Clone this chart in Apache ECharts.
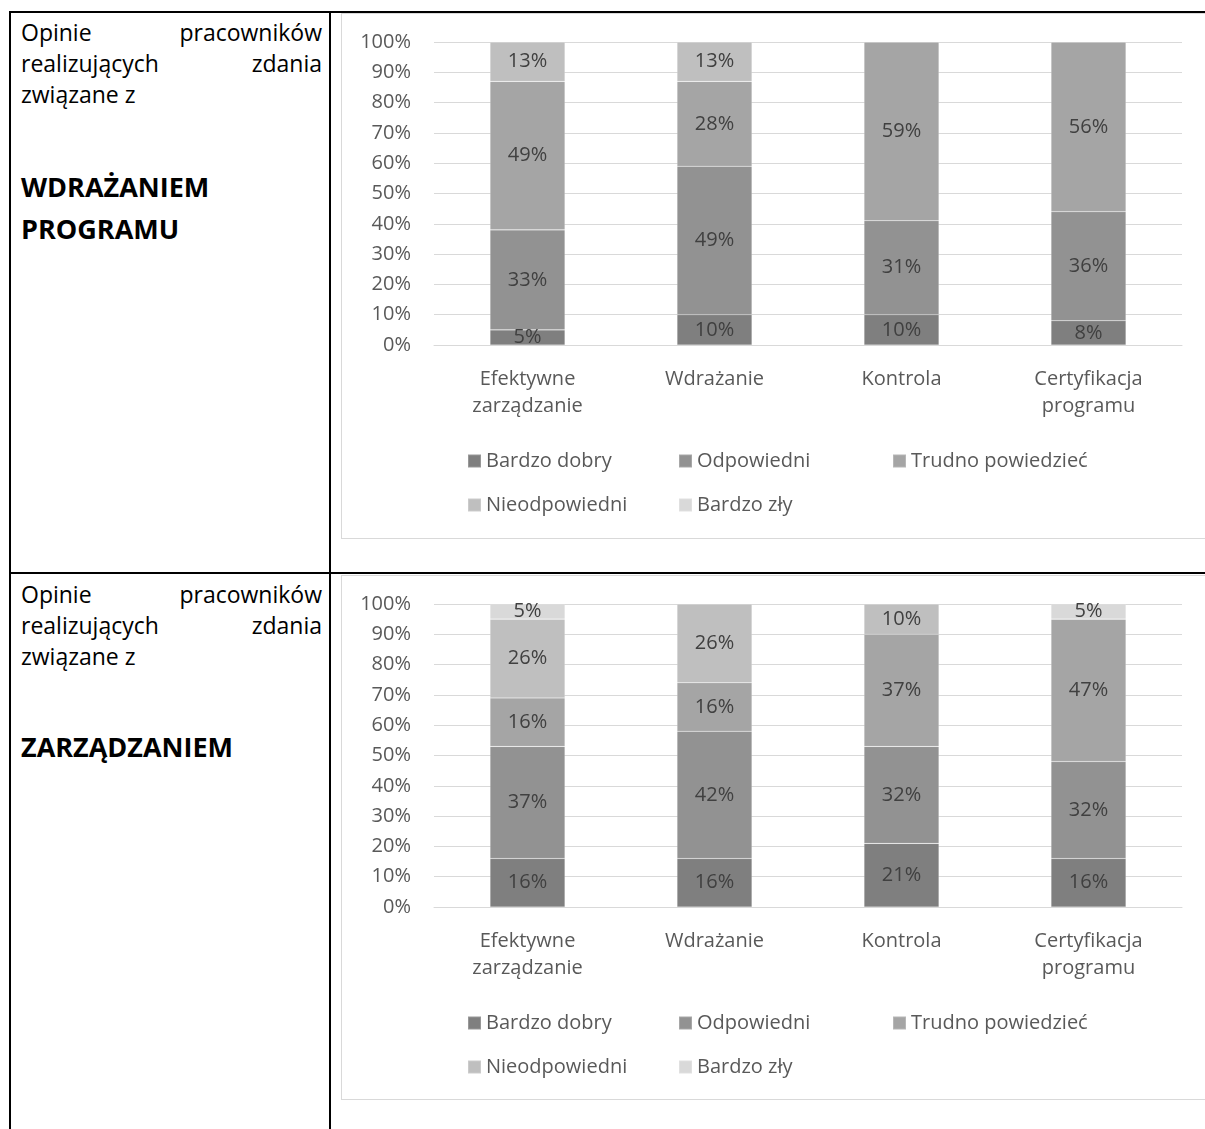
<!DOCTYPE html>
<html lang="pl">
<head>
<meta charset="utf-8">
<title>Opinie pracowników</title>
<script src="https://cdn.jsdelivr.net/npm/echarts@6/dist/echarts.min.js"></script>
<style>
  html, body { margin: 0; padding: 0; background: #fff; }
  body { width: 1205px; height: 1129px; position: relative; overflow: hidden; font-family: 'Open Sans', sans-serif; }
  .rule { position: absolute; background: #000; }
  .frame { position: absolute; box-sizing: border-box; border: 1px solid #d9d9d9; pointer-events: none; }
  .chart { position: absolute; }
  .cell-text { position: absolute; left: 21px; width: 301px; color: #000; }
  .cell-text .ln { font-size: 23px; line-height: 31px; height: 31px; white-space: nowrap; }
  .cell-text .ln.just { text-align: justify; text-align-last: justify; white-space: normal; }
  .cell-text .hd { font-size: 27px; line-height: 42px; font-weight: 700; white-space: nowrap; }
</style>
</head>
<body>
  <!-- table rules -->
  <div class="rule" style="left:9px; top:11px; width:2px; height:1118px;"></div>
  <div class="rule" style="left:329px; top:11px; width:2px; height:1118px;"></div>
  <div class="rule" style="left:9px; top:11px; width:1196px; height:2px;"></div>
  <div class="rule" style="left:9px; top:572px; width:1196px; height:2px;"></div>

  <!-- row 1 description -->
  <div class="cell-text" style="top:17px;">
    <div class="ln just">Opinie pracowników</div>
    <div class="ln just">realizujących zdania</div>
    <div class="ln">związane z</div>
    <div style="height:56px;"></div>
    <div class="hd">WDRAŻANIEM</div>
    <div class="hd">PROGRAMU</div>
  </div>

  <!-- row 2 description -->
  <div class="cell-text" style="top:579px;">
    <div class="ln just">Opinie pracowników</div>
    <div class="ln just">realizujących zdania</div>
    <div class="ln">związane z</div>
    <div style="height:54px;"></div>
    <div class="hd">ZARZĄDZANIEM</div>
  </div>

  <div id="chartWdrazanie" class="chart" style="left:341px; top:13px; width:880px; height:526px;"></div>
  <div class="frame" style="left:341px; top:13px; width:880px; height:526px;"></div>

  <div id="chartZarzadzanie" class="chart" style="left:341px; top:575px; width:880px; height:525px;"></div>
  <div class="frame" style="left:341px; top:575px; width:880px; height:525px;"></div>

<script>
// Categories and answer scale
const categories = ['Efektywne\nzarządzanie', 'Wdrażanie', 'Kontrola', 'Certyfikacja\nprogramu'];
const answers = ['Bardzo dobry', 'Odpowiedni', 'Trudno powiedzieć', 'Nieodpowiedni', 'Bardzo zły'];

// Opinions on programme implementation (%)
const wdrBardzoDobry   = [5, 10, 10, 8];
const wdrOdpowiedni    = [33, 49, 31, 36];
const wdrTrudno        = [49, 28, 59, 56];
const wdrNieodpowiedni = [13, 13, 0, 0];
const wdrBardzoZly     = [0, 0, 0, 0];

// Opinions on management (%)
const zarBardzoDobry   = [16, 16, 21, 16];
const zarOdpowiedni    = [37, 42, 32, 32];
const zarTrudno        = [16, 16, 37, 47];
const zarNieodpowiedni = [26, 26, 10, 0];
const zarBardzoZly     = [5, 0, 0, 5];

// Value axis ticks
const yMin = 0, yMax = 100, yStep = 10;

const grays = ['#7f7f7f', '#929292', '#a5a5a5', '#bfbfbf', '#d9d9d9'];
const FONT = "'Open Sans', sans-serif";

// legend item anchor points (inside each chart box)
const legendSpots = [
  { left: 126, top: 438 },
  { left: 337, top: 438 },
  { left: 551, top: 438 },
  { left: 126, top: 482 },
  { left: 337, top: 482 }
];

function buildOption(seriesValues) {
  return {
    animation: false,
    textStyle: { fontFamily: FONT },
    color: grays,
    grid: { left: 93, top: 29, width: 748, height: 303, containLabel: false },
    legend: answers.map((name, i) => ({
      data: [name],
      left: legendSpots[i].left,
      top: legendSpots[i].top,
      padding: 0,
      icon: 'rect',
      itemWidth: 13,
      itemHeight: 13,
      selectedMode: false,
      textStyle: { fontFamily: FONT, fontSize: 20, color: '#595959', padding: [0, 0, 0, 0] }
    })),
    xAxis: {
      type: 'category',
      data: categories,
      axisTick: { show: false },
      axisLine: { lineStyle: { color: '#d9d9d9', width: 1 } },
      axisLabel: { fontFamily: FONT, fontSize: 20, lineHeight: 27, color: '#595959', margin: 21, interval: 0 }
    },
    yAxis: {
      type: 'value',
      min: yMin,
      max: yMax,
      interval: yStep,
      axisLine: { show: false },
      axisTick: { show: false },
      splitLine: { lineStyle: { color: '#d9d9d9', width: 1 } },
      axisLabel: { fontFamily: FONT, fontSize: 20, color: '#595959', margin: 23, formatter: '{value}%' }
    },
    series: answers.map((name, i) => ({
      name: name,
      type: 'bar',
      stack: 'total',
      barWidth: 75,
      data: seriesValues[i],
      itemStyle: { color: grays[i], borderColor: 'rgba(255,255,255,0.2)', borderWidth: 0.6 },
      label: {
        show: true,
        position: 'inside',
        fontFamily: FONT,
        fontSize: 20,
        color: '#404040',
        formatter: p => (p.value ? p.value + '%' : '')
      }
    }))
  };
}

const chartA = echarts.init(document.getElementById('chartWdrazanie'), null, { renderer: 'canvas' });
chartA.setOption(buildOption([wdrBardzoDobry, wdrOdpowiedni, wdrTrudno, wdrNieodpowiedni, wdrBardzoZly]));

const chartB = echarts.init(document.getElementById('chartZarzadzanie'), null, { renderer: 'canvas' });
chartB.setOption(buildOption([zarBardzoDobry, zarOdpowiedni, zarTrudno, zarNieodpowiedni, zarBardzoZly]));
</script>
</body>
</html>
